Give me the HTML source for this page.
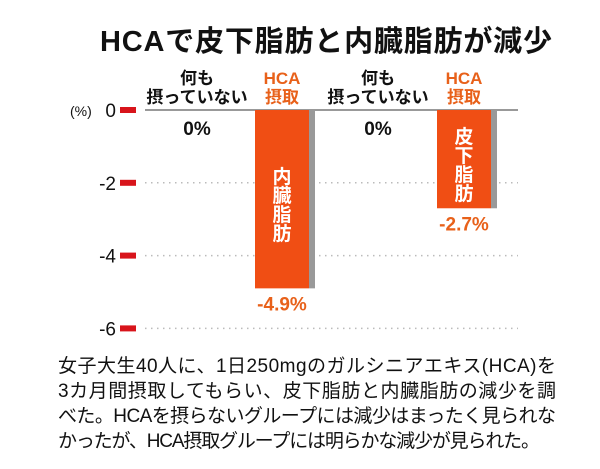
<!DOCTYPE html>
<html><head><meta charset="utf-8"><style>
body{margin:0;background:#fff;}
svg{display:block;font-family:"Liberation Sans","Noto Sans CJK JP",sans-serif;}
</style></head><body>
<svg width="600" height="469" viewBox="0 0 600 469">
<text x="326" y="51" text-anchor="middle" font-size="29" font-weight="bold" fill="#111" textLength="452">HCAで皮下脂肪と内臓脂肪が減少</text>
<g id="axis"></g>
<g id="bars"></g>
<g font-size="19" fill="#111">
<text x="58" y="372" textLength="498">女子大生40人に、1日250mgのガルシニアエキス(HCA)を</text>
<text x="58" y="397" textLength="498">3カ月間摂取してもらい、皮下脂肪と内臓脂肪の減少を調</text>
<text x="58" y="422" textLength="498">べた。HCAを摂らないグループには減少はまったく見られな</text>
<text x="58" y="447" textLength="482">かったが、HCA摂取グループには明らかな減少が見られた。</text>
</g>
</svg>
<script>
const tickValues=[0,-2,-4,-6];
const tickLabels=["0","-2","-4","-6"];
const categories=["何も|摂っていない","HCA|摂取","何も|摂っていない","HCA|摂取"];
const values=[0,-4.9,0,-2.7];
const valueLabels=["0%","-4.9%","0%","-2.7%"];
const barNames=["","内臓脂肪","","皮下脂肪"];
const NS="http://www.w3.org/2000/svg";
const y0=110, unit=36.4;
function y(v){return y0-v*unit;}
const centers=[197,282,378,464];
function mk(tag,attrs,parent,txt){const e=document.createElementNS(NS,tag);for(const k in attrs)e.setAttribute(k,attrs[k]);if(txt!==undefined)e.textContent=txt;parent.appendChild(e);return e;}
const ax=document.getElementById('axis');
tickValues.forEach((v,i)=>{
  const yy=y(v);
  const r=mk('rect',{x:120,y:yy-3,width:16,height:6,fill:'#d8141b'},ax);
  
  
  const t=mk('text',{x:116,y:yy+7,'text-anchor':'end','font-size':19,fill:'#111'},ax,tickLabels[i]);
  
  
  if(v===0){
    const l=mk('line',{x1:145,x2:518,y1:yy,y2:yy,stroke:'#999','stroke-width':2},ax);
    
    
  }else{
    const l=mk('line',{x1:145,x2:518,y1:yy,y2:yy,stroke:'#bbb','stroke-width':1.5,'stroke-dasharray':'1.5 4.5'},ax);
    
    
  }
});
const u=mk('text',{x:70,y:y0+6,'font-size':14,fill:'#111'},ax,"(%)");


const bg=document.getElementById('bars');
categories.forEach((c,i)=>{
  const cx=centers[i];
  const parts=c.split('|');
  const col=(i%2)?'#e8611a':'#111';
  const t1=mk('text',{x:cx,y:84,'text-anchor':'middle','font-size':17,'font-weight':'bold',fill:col},bg,parts[0]);
  
  
  const t2=mk('text',{x:cx,y:103,'text-anchor':'middle','font-size':17,'font-weight':'bold',fill:col},bg,parts[1]);
  
  
  const v=values[i];
  if(v<0){
    const h=y(v)-y0;
    const s=mk('rect',{x:cx+27,y:y0,width:6,height:h,fill:'#999'},bg);
    
    
    const b=mk('rect',{x:cx-27,y:y0,width:54,height:h,fill:'#f04e14'},bg);
    
    
    const n=barNames[i];
    const step=19;
    const top=y0+h/2+6-n.length*step/2;
    for(let k=0;k<n.length;k++){
      const ch=mk('text',{x:cx,y:top+k*step+16,'text-anchor':'middle','font-size':19,'font-weight':'bold',fill:'#fff'},bg,n[k]);
      
      
    }
    const vl=mk('text',{x:cx,y:y(v)+22,'text-anchor':'middle','font-size':19,'font-weight':'bold',fill:'#e8611a'},bg,valueLabels[i]);
    
    
  }else{
    const vl=mk('text',{x:cx,y:y0+25,'text-anchor':'middle','font-size':19,'font-weight':'bold',fill:'#111'},bg,valueLabels[i]);
    
    
  }
});
</script>
</body></html>
